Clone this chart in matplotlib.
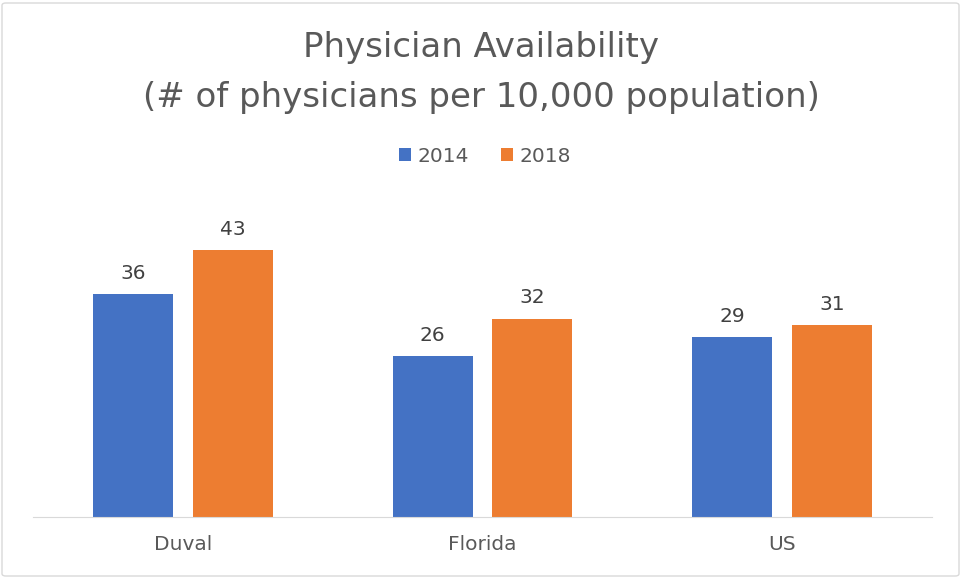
import matplotlib.pyplot as plt
from matplotlib.patches import FancyBboxPatch, Patch

plt.rcParams['font.family'] = ['DejaVu Sans']

categories = ['Duval', 'Florida', 'US']
years = ['2014', '2018']
values_2014 = [36, 26, 29]
values_2018 = [43, 32, 31]
colors = ['#4472C4', '#ED7D31']

W, H = 962, 578
fig = plt.figure(figsize=(W / 100, H / 100), dpi=100, facecolor='white')

# frame around the chart
fig.patches.append(FancyBboxPatch((2 / W, 2 / H), (W - 5) / W, (H - 5) / H,
                                  boxstyle='round,pad=0,rounding_size=0.004',
                                  transform=fig.transFigure, facecolor='none',
                                  edgecolor='#D9D9D9', linewidth=1))

# axes: baseline at y=517 px, x from 33 to 932 px
ax = fig.add_axes([33 / W, (H - 517) / H, 899 / W, 310 / H])
x = range(len(categories))
w = 80 / 300
gap = 20 / 300
b1 = ax.bar([i - w / 2 - gap / 2 for i in x], values_2014, width=w, color=colors[0])
b2 = ax.bar([i + w / 2 + gap / 2 for i in x], values_2018, width=w, color=colors[1])
ax.set_xlim(-0.5, 2.5)
ax.set_ylim(0, 50)

for bars, vals in ((b1, values_2014), (b2, values_2018)):
    for bar, v in zip(bars, vals):
        ax.annotate(f'{v}', (bar.get_x() + bar.get_width() / 2, v),
                    xytext=(0, 8), textcoords='offset points',
                    ha='center', va='bottom', fontsize=14.5, color='#404040')

for s in ['top', 'right', 'left']:
    ax.spines[s].set_visible(False)
ax.spines['bottom'].set_color('#D9D9D9')
ax.set_yticks([])
ax.set_xticks(list(x))
ax.set_xticklabels(categories, fontsize=14.5, color='#595959')
ax.tick_params(axis='x', length=0, pad=13)

fig.text(0.5, 1 - 48 / H, 'Physician Availability', ha='center', va='center',
         fontsize=24.5, color='#595959')
fig.text(0.5, 1 - 97 / H, '(# of physicians per 10,000 population)', ha='center',
         va='center', fontsize=24.5, color='#595959')

handles = [Patch(facecolor=c, label=y) for c, y in zip(colors, years)]
fig.legend(handles=handles, loc='center', bbox_to_anchor=(485 / W, 1 - 156 / H),
           ncol=2, frameon=False, fontsize=14.5, labelcolor='#595959',
           handlelength=0.6, handleheight=0.6, handletextpad=0.3, columnspacing=1.6)

fig.savefig('out.png', dpi=100, facecolor='white')
